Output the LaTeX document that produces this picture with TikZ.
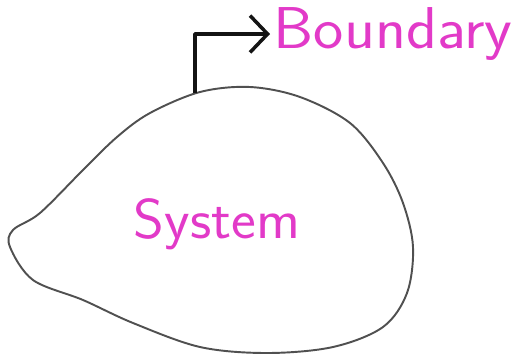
\documentclass[tikz,border=0pt]{standalone}
\usepackage{graphicx}
\usetikzlibrary{arrows.meta}
\definecolor{skpink}{RGB}{226,58,200}
\definecolor{skoutline}{RGB}{80,80,80}
\definecolor{skpen}{RGB}{20,20,20}
\tikzset{
  blob/.style={draw=skoutline, line width=1.1pt, line join=round},
  handtext/.style={font=\sffamily\fontsize{32}{32}\selectfont, text=skpink, inner sep=2pt},
  pointer/.style={
    -{Straight Barb[length=10pt,width=21pt,line width=2pt]},
    draw=skpen, line width=2.2pt, line join=round
  },
}
\begin{document}
\begin{tikzpicture}[x=0.02cm,y=-0.02cm]
  \useasboundingbox (0,0) rectangle (520,356);

  % ===== the system outline =====
  \draw[blob] plot[smooth cycle, tension=0.55] coordinates {
    (200,92) (250,87) (300,97) (350,123) (383,163) (403,203) (413,247)
    (407,293) (383,327) (333,347) (267,353) (200,347) (133,323) (83,300)
    (33,280) (10,247) (13,230) (40,213) (83,170) (117,137) (150,113)};
  \node[handtext] (system) at (217,224) {\scalebox{1.05}[1]{System}};

  % ===== boundary label and its pointer =====
  \coordinate (blobtop) at (195,93);
  \node[handtext, anchor=west] (boundary) at (270,34) {\scalebox{1.14}[1.05]{Boundary}};
  \draw[pointer] (blobtop) |- (boundary.west);

\end{tikzpicture}
\end{document}
